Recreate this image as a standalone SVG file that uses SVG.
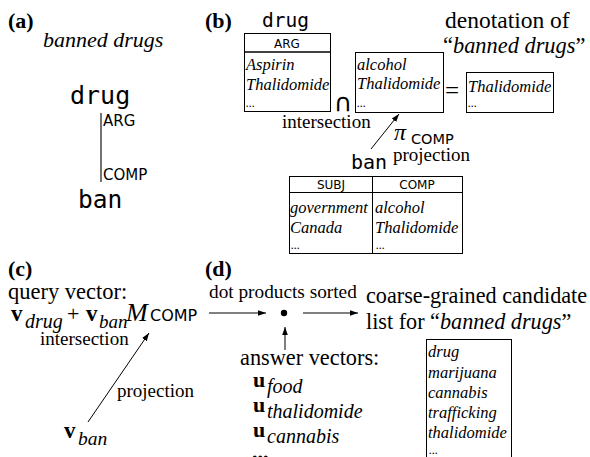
<svg xmlns="http://www.w3.org/2000/svg" width="590" height="457" viewBox="0 0 590 457" font-family="Liberation Serif, serif">
<style>
.s{font-family:"Liberation Serif",serif;fill:#000}
.i{font-family:"Liberation Serif",serif;font-style:italic;fill:#000}
.bd{font-family:"Liberation Serif",serif;font-weight:bold;fill:#000}
.m{font-family:"DejaVu Sans Mono",monospace;fill:#000}
.ss{font-family:"DejaVu Sans",sans-serif;fill:#000}
.box{fill:#fff;stroke:#000;stroke-width:1}
.ln{stroke:#000;stroke-width:1;fill:none}
.it{font-family:"Liberation Serif",serif;font-style:italic;font-size:16.5px;fill:#000}
</style>
<defs>
<marker id="ah" viewBox="0 0 10 10" refX="10" refY="5" markerWidth="8" markerHeight="8" orient="auto" markerUnits="userSpaceOnUse">
<path d="M0,1.5 L10,5 L0,8.5 z" fill="#000"/>
</marker>
</defs>
<rect width="590" height="457" fill="#fff"/>
<g id="panel-a">
<text class="bd" x="8" y="28" font-size="22">(a)</text>
<text class="i" x="43" y="47" font-size="22">banned drugs</text>
<text class="m" x="70" y="104" font-size="25">drug</text>
<line x1="101" y1="113" x2="101" y2="182" stroke="#444" stroke-width="1.5"/>
<text class="ss" x="103" y="126" font-size="15">ARG</text>
<text class="ss" x="103" y="180" font-size="15">COMP</text>
<text class="m" x="78" y="208" font-size="24.5">ban</text>
</g>
<g id="panel-b">
<text class="bd" x="205" y="28" font-size="22">(b)</text>
<text class="m" x="262" y="27" font-size="19.5">drug</text>
<g id="drug-table">
<rect class="box" x="244.5" y="33.5" width="86" height="78"/>
<line x1="244.5" y1="52" x2="330.5" y2="52" stroke="#000" stroke-width="1.6"/>
<text class="ss" x="287" y="48" font-size="12" text-anchor="middle">ARG</text>
<text class="it" x="246" y="70">Aspirin</text>
<text class="it" x="246" y="90">Thalidomide</text>
<text class="i" x="246" y="107" font-size="12">...</text>
</g>
<text class="ss" x="334" y="111" font-size="25">∩</text>
<g id="comp-set">
<rect class="box" x="355.5" y="52.5" width="88" height="60"/>
<text class="it" x="357" y="70">alcohol</text>
<text class="it" x="357" y="89">Thalidomide</text>
<text class="i" x="357" y="107" font-size="12">...</text>
</g>
<text class="s" x="445" y="99" font-size="25">=</text>
<g id="result">
<rect class="box" x="466.5" y="72.5" width="87" height="40"/>
<text class="it" x="468" y="92">Thalidomide</text>
<text class="i" x="468" y="107" font-size="12">...</text>
</g>
<text class="s" x="445" y="28" font-size="23.5">denotation of</text>
<text class="s" x="443" y="53" font-size="22.4">“<tspan class="i">banned drugs</tspan>”</text>
<text class="s" x="282" y="128" font-size="19">intersection</text>
<text class="i" x="394" y="140" font-size="24">π</text>
<text class="ss" x="411" y="144" font-size="14.5">COMP</text>
<text class="m" x="351" y="169" font-size="20">ban</text>
<text class="s" x="393" y="161" font-size="19">projection</text>
<g id="ban-table">
<rect class="box" x="289.5" y="176.5" width="173" height="77"/>
<line x1="372.5" y1="176.5" x2="372.5" y2="253.5" class="ln"/>
<line x1="289.5" y1="192.5" x2="462.5" y2="192.5" class="ln"/>
<text class="ss" x="331" y="189" font-size="12" text-anchor="middle">SUBJ</text>
<text class="ss" x="417" y="189" font-size="12" text-anchor="middle">COMP</text>
<text class="it" x="290" y="213">government</text>
<text class="it" x="290" y="233">Canada</text>
<text class="i" x="291" y="249" font-size="12">...</text>
<text class="it" x="375" y="213">alcohol</text>
<text class="it" x="375" y="233">Thalidomide</text>
<text class="i" x="376" y="249" font-size="12">...</text>
</g>
</g>
<g id="panel-c">
<text class="bd" x="8" y="276" font-size="22">(c)</text>
<text class="s" x="8" y="299" font-size="22.5">query vector:</text>
<text class="bd" x="11" y="321" font-size="23">v</text>
<text class="i" x="25" y="328" font-size="20">drug</text>
<text class="s" x="67" y="321" font-size="22">+</text>
<text class="bd" x="86" y="321" font-size="23">v</text>
<text class="i" x="99" y="328" font-size="19">ban</text>
<text class="i" x="126" y="321" font-size="26">M</text>
<text class="ss" x="150" y="321" font-size="16">COMP</text>
<text class="s" x="40" y="345" font-size="19">intersection</text>
<text class="s" x="117" y="397" font-size="19">projection</text>
<text class="bd" x="64" y="438" font-size="23">v</text>
<text class="i" x="78" y="445" font-size="19.5">ban</text>
</g>
<g id="panel-d">
<text class="bd" x="205" y="276" font-size="22">(d)</text>
<text class="s" x="209" y="298" font-size="19.3">dot products sorted</text>
<circle cx="284" cy="313" r="3.2" fill="#000"/>
<text class="s" x="366" y="303" font-size="22.2">coarse-grained candidate</text>
<text class="s" x="366" y="329" font-size="22.2">list for “<tspan class="i">banned drugs</tspan>”</text>
<text class="s" x="240" y="365" font-size="22.3">answer vectors:</text>
<text class="bd" x="253" y="387" font-size="22">u</text>
<text class="i" x="267" y="393" font-size="20">food</text>
<text class="bd" x="253" y="412" font-size="22">u</text>
<text class="i" x="267" y="418" font-size="20">thalidomide</text>
<text class="bd" x="253" y="437" font-size="22">u</text>
<text class="i" x="267" y="443" font-size="20">cannabis</text>
<text class="bd" x="252" y="459" font-size="22">...</text>
<g id="candidate-list">
<rect class="box" x="426.5" y="339.5" width="85" height="130"/>
<text class="it" x="428" y="357">drug</text>
<text class="it" x="428" y="378">marijuana</text>
<text class="it" x="428" y="398">cannabis</text>
<text class="it" x="428" y="418">trafficking</text>
<text class="it" x="428" y="438">thalidomide</text>
<text class="i" x="429" y="454" font-size="12">...</text>
</g>
</g>
<g id="connectors">
<line class="ln" x1="371" y1="149" x2="399" y2="114" marker-end="url(#ah)"/>
<line class="ln" x1="88" y1="422" x2="149" y2="333" marker-end="url(#ah)"/>
<line class="ln" x1="209" y1="313" x2="266" y2="313" marker-end="url(#ah)"/>
<line class="ln" x1="303" y1="313" x2="358" y2="313" marker-end="url(#ah)"/>
<line class="ln" x1="285" y1="350" x2="285" y2="327" marker-end="url(#ah)"/>
</g>
</svg>
